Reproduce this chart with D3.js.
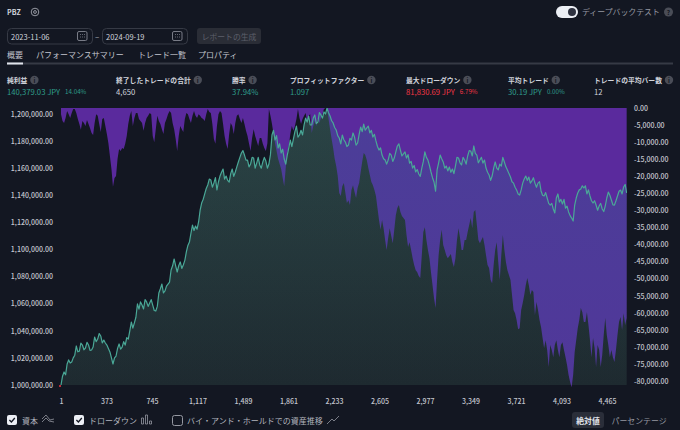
<!DOCTYPE html>
<html>
<head>
<meta charset="utf-8">
<script src="https://d3js.org/d3.v7.min.js"></script>
<style>
  html, body { margin: 0; padding: 0; background: #131722; }
  svg { display: block; font-family: "Noto Sans CJK JP", "Noto Sans", sans-serif; }
</style>
</head>
<body>
<svg id="chart" width="680" height="430"></svg>
<script>
// one reading every 12.5 trades, equity in thousands of JPY
var tradeStep = 12.5;
var equityK = [1000,1006.5,1009.6,1007.5,1015.5,1018.5,1016.2,1017,1020,1022,1028.8,1024.5,1025,1031,1029.5,1026,1027.3,1031.5,1029.5,1025.5,
  1025.8,1028,1035.4,1032,1033.9,1038,1036.2,1031,1033.2,1031,1029.5,1027,1024.4,1020,1015.5,1020,1021.4,1027,1030.3,1026.5,
  1028,1032,1029.5,1035,1033.9,1040,1046.5,1042,1045.8,1050,1059.8,1056,1061.3,1059,1056.1,1063,1061.3,1058,1060.5,1063,
  1059,1055,1054.6,1058,1067.9,1071,1074.5,1068,1069.4,1073,1074.5,1076,1084.9,1088,1093,1088,1083.4,1088,1090.8,1086,
  1088.6,1092,1098.2,1103,1105.5,1112,1118,1114,1117.3,1115,1120.3,1129,1134.3,1137,1141,1145,1147.6,1152,1151.3,1146,
  1149,1153,1143.9,1150,1154.2,1157,1159.4,1152,1154.2,1151,1149.8,1156,1159.4,1154,1157.2,1161,1164.6,1168,1171.2,1173,
  1169.7,1166,1166,1161,1163.1,1168,1167.5,1160,1163.8,1168,1162.4,1160,1164.6,1168,1165.3,1160,1163.1,1170,1184.5,1188,
  1180.8,1184,1174.9,1178,1171.2,1174,1166.8,1163,1169.7,1175,1180.8,1176,1181.5,1187,1191.1,1183,1184.5,1188,1184.5,1192,
  1197,1194,1198.5,1192,1191.9,1197,1199.3,1193,1194.1,1201,1199.3,1197,1201.5,1200,1204.4,1201,1198.5,1195,1193.4,1190,
  1188.2,1184,1182.3,1178,1184.5,1181,1179.3,1176,1177.1,1182,1180.8,1186,1183,1177,1178.6,1185,1190.4,1187,1192.6,1188,
  1189.7,1191,1186,1188,1183,1185,1180.1,1176,1173.4,1175,1169.7,1167,1166,1163,1166,1171,1169.7,1165,1167.5,1172,
  1176.4,1178,1173.4,1169,1170.5,1172,1167.5,1170,1163.8,1165,1160.1,1162,1157.2,1159,1155.7,1154,1160.1,1165,1172,1168,
  1166,1162,1157.2,1153,1149.8,1143,1158.7,1164,1169.7,1167,1164.6,1160,1161.6,1158,1160.9,1157,1159.4,1156,1161.6,1168,
  1167.5,1164,1162.4,1168,1166,1163,1169,1173,1172.7,1169,1176.4,1171,1169.7,1164,1166,1168,1163.8,1166,1160.1,1157,
  1155,1151,1154.2,1160,1164.6,1160,1158.7,1163,1161.6,1168,1164.6,1161,1158.7,1156,1153.5,1150,1149,1146,1143.9,1141,
  1140.2,1144,1149,1152,1154.2,1151,1153.5,1149,1150.6,1153,1149,1146,1149,1150,1143.2,1140,1139.5,1142,1138,1134,
  1132.8,1134,1129.9,1127,1138,1141,1135,1137,1133.6,1137,1130.6,1132,1127.7,1125,1123.2,1121,1132.8,1138,1141.7,1144,
  1144.7,1147,1145.4,1147,1141,1144,1139.5,1136,1134.3,1136,1132.8,1129,1132.1,1134,1129.9,1128,1132.1,1138,1142.4,1140,
  1136.5,1133,1132.8,1136,1139.5,1143,1143.9,1141,1146.1,1148,1141.7];
// drawdown in thousands of JPY, same trades as equityK
var drawdownK = [-1.8,-3.8,-4.4,-2.9,-0.9,-1.8,-2.9,-1.5,-0.3,-0.3,-1.5,-3.2,-4.7,-6.4,-3.8,-4.4,-5.3,-3.5,-4.7,-5.9,
  -7.3,-7.9,-4.4,-1.8,-2.3,-4.7,-7,-3.2,-2.9,-5.3,-7.6,-10.3,-14.1,-17.9,-23.1,-20.5,-19.9,-14.9,-12,-12.6,
  -11.7,-12,-10.5,-8.2,-4.7,-2.3,-0.9,-5.3,-2.9,-1.5,-1.5,-3.2,-3.8,-4.4,-6.7,-4.4,-2.9,-2.3,-1.5,-1.8,
  -8.2,-10,-6.2,-2.3,-3.8,-4.7,-6.2,-7.6,-4.4,-3.2,-1.8,-0.9,-1.5,-4.4,-6.2,-9.1,-12.6,-8.2,-5.3,-6.2,
  -7,-3.2,-1.5,-1.8,-3.2,-4.4,-2.3,-0.9,-2.3,-2.9,-1.8,-2.3,-2.9,-3.2,-3.8,-1.8,-0.3,-1.2,-1.5,-4.7,
  -9.1,-10.5,-5.3,-1.8,-0.9,-1.5,-4.7,-8.2,-10.5,-12,-7.6,-4.4,-5.3,-7.6,-4.4,-2.3,-1.8,-3.2,-4.4,-2.9,
  -4.7,-6.7,-8.2,-10.5,-12.6,-8.8,-6.2,-8.2,-9.7,-11.1,-8.8,-8.8,-10.5,-11.7,-12.6,-10.3,-0.3,-2.3,-4.7,-7.6,
  -10.3,-12.6,-14.9,-16.4,-17.9,-20.5,-22.9,-17.6,-13.5,-11.1,-7.6,-5.3,-6.7,-5.3,-3.2,-0.3,-2.9,-4.7,-3.2,-2.3,
  -1.5,-3.8,-2.3,-1.8,-7.3,-5.3,-3.8,-5.3,-3.2,-4.4,-2.9,-1.8,-0.3,0,0,-3.2,-6.2,-9.1,-11.7,-14.9,
  -17,-19.9,-24.9,-25.8,-22.9,-22,-24.9,-27.8,-27,-28.4,-24,-22.6,-24.6,-26.4,-23.4,-22,-18.8,-15.8,-13.2,-13.8,
  -15.2,-17.6,-19.6,-21.7,-22.6,-24,-25.8,-29.3,-32.8,-35.7,-32.8,-35.2,-38.7,-41.6,-38.1,-35.2,-37.5,-39.6,-35.7,-31.4,
  -29.3,-28.4,-30.5,-31.6,-32.2,-32.8,-37.2,-40.7,-39.3,-41.6,-44,-46,-47.5,-48.1,-49.2,-49.8,-43.1,-36.3,-34.9,-38.7,
  -41.6,-44,-48.1,-51.9,-55.7,-58.6,-50.4,-43.1,-38.7,-35.7,-40.1,-41.6,-43.1,-44,-43.4,-42.8,-45.1,-46.6,-44,-38.7,
  -35.2,-38.1,-41.6,-41.6,-38.7,-38.7,-36.3,-34.3,-32.2,-35.2,-30.5,-29.9,-34.3,-38.7,-39.6,-38.7,-37.8,-40.1,-43.1,-46,
  -46.9,-50.4,-51.3,-46,-41.6,-39.3,-45.1,-50.4,-43.1,-37.2,-41.6,-45.1,-47.5,-48.9,-50.4,-54.8,-59.2,-60.1,-62.1,-64.8,
  -64.5,-59.2,-57.1,-54.8,-51.9,-49.8,-51.9,-54.8,-53.3,-53.9,-60.7,-56.8,-59.2,-62.1,-64.2,-67.4,-70.3,-68,-70.9,-75.9,
  -69.4,-70.9,-73,-69.4,-68,-70.9,-73,-69.4,-68.6,-70.9,-73,-75.3,-78.2,-80.3,-81.8,-78.2,-71.5,-68,-64.5,-62.1,
  -58.6,-59.8,-62.7,-62.7,-59.8,-63.6,-68,-73,-67.4,-70.3,-75.9,-69.4,-70.9,-75.9,-72.4,-66.5,-61.5,-66.5,-69.4,-73,
  -70.9,-73,-74.4,-70.9,-66.5,-62.7,-61.2,-65,-60.1,-63.6,-61.5];

var tradeTicks = [1,373,745,1117,1489,1861,2233,2605,2977,3349,3721,4093,4465];
var equityTicks = [1000000,1020000,1040000,1060000,1080000,1100000,1120000,1140000,1160000,1180000,1200000];
var drawdownTicks = [0,-5000,-10000,-15000,-20000,-25000,-30000,-35000,-40000,-45000,-50000,-55000,-60000,-65000,-70000,-75000,-80000];

var metricLabels = ["純利益","終了したトレードの合計","勝率","プロフィットファクター","最大ドローダウン","平均トレード","トレードの平均バー数"];
var metricValues = ["140,379.03 JPY","4,650","37.94%","1.097","81,830.69 JPY","30.19 JPY","12"];
var metricPercents = ["14.04%","","","","6.79%","0.00%",""];
var metricColours = ["#2f9e8c","#d1d4dc","#2f9e8c","#2f9e8c","#f23645","#2f9e8c","#d1d4dc"];
var metricLeft = [7,116,232,290,406,508,594];
var tabs = ["概要","パフォーマンスサマリー","トレード一覧","プロパティ"];
var tabLeft = [7,36,138,198];

var svg = d3.select("#chart");
var plot = {left: 59, right: 627, top: 108, bottom: 386};

function label(x, y, str, size, fill, weight, anchor) {
  return svg.append("text").attr("x", x).attr("y", y).text(str)
    .attr("font-size", size).attr("fill", fill)
    .attr("font-weight", weight || 400)
    .attr("text-anchor", anchor || "start")
    .attr("dominant-baseline", "central");
}

// scales
var x = d3.scaleLinear().domain([1, 4650]).range([61, 629.6]);
var yEquity = d3.scaleLinear().domain([1000000, 1200000]).range([385, 114]);
var yDrawdown = d3.scaleLinear().domain([0, -80000]).range([108, 381.1]);
function tradeAt(i) { return 1 + i * tradeStep; }

var defs = svg.append("defs");
defs.append("clipPath").attr("id", "plotClip").append("rect")
  .attr("x", plot.left).attr("y", plot.top)
  .attr("width", plot.right - plot.left).attr("height", plot.bottom - plot.top + 2);

function gradient(id, stops) {
  var grad = defs.append("linearGradient").attr("id", id)
    .attr("x1", 0).attr("y1", 0).attr("x2", 0).attr("y2", 1);
  stops.forEach(function (s) {
    grad.append("stop").attr("offset", s[0]).attr("stop-color", s[1]).attr("stop-opacity", s[2]);
  });
}
gradient("equityBase", [["0%", "#323239", 1], ["100%", "#211b25", 1]]);
gradient("equityTint", [["0%", "#089981", 0.18], ["100%", "#089981", 0.12]]);

var g = svg.append("g").attr("clip-path", "url(#plotClip)");

var eqArea = d3.area()
  .x(function (d, i) { return x(tradeAt(i)); })
  .y0(yEquity(1000000))
  .y1(function (d) { return yEquity(d * 1000); });

g.append("path").datum(equityK)
  .attr("d", eqArea)
  .attr("fill", "url(#equityBase)");

// drawdown hangs from the zero line
var ddArea = d3.area()
  .x(function (d, i) { return x(tradeAt(i)); })
  .y0(yDrawdown(0))
  .y1(function (d) { return yDrawdown(d * 1000); });
g.append("path").datum(drawdownK)
  .attr("d", ddArea)
  .attr("fill", "#5a2a9d");

g.append("path").datum(equityK)
  .attr("d", eqArea)
  .attr("fill", "url(#equityTint)");

var eqLine = d3.line()
  .x(function (d, i) { return x(tradeAt(i)); })
  .y(function (d) { return yEquity(d * 1000); });
g.append("path").datum(equityK)
  .attr("d", eqLine)
  .attr("fill", "none")
  .attr("stroke", "#4aa897")
  .attr("stroke-width", 1.2)
  .attr("stroke-linejoin", "round");

// start marker
svg.append("circle").attr("cx", x(1) - 1).attr("cy", yEquity(1000000) + 1).attr("r", 1).attr("fill", "#f23645");

// axes
function styleAxis(sel) {
  sel.select(".domain").remove();
  sel.selectAll("line").remove();
  sel.selectAll("text").attr("fill", "#c3c6ce").attr("font-size", 7).attr("font-weight", 500)
    .attr("font-family", '"Noto Sans CJK JP", "Noto Sans", sans-serif');
}
// plain hyphen instead of the d3 minus sign
function money(v) { return d3.format(",.2f")(v).replace("−", "-"); }
svg.append("g").attr("transform", "translate(53,0)")
  .call(d3.axisLeft(yEquity).tickValues(equityTicks).tickSize(0).tickPadding(0).tickFormat(money))
  .call(styleAxis);
svg.append("g").attr("transform", "translate(634,0)")
  .call(d3.axisRight(yDrawdown).tickValues(drawdownTicks).tickSize(0).tickPadding(0).tickFormat(money))
  .call(styleAxis);
svg.append("g").attr("transform", "translate(0,399)")
  .call(d3.axisBottom(x).tickValues(tradeTicks).tickSize(0).tickPadding(0).tickFormat(d3.format(",")))
  .call(styleAxis);

// header
label(7, 12, "PBZ", 7, "#d1d4dc", 700);
svg.append("circle").attr("cx", 35).attr("cy", 12).attr("r", 3.8).attr("fill", "none").attr("stroke", "#9598a1");
svg.append("circle").attr("cx", 35).attr("cy", 12).attr("r", 1.4).attr("fill", "none").attr("stroke", "#9598a1");

[[7, "2023-11-06"], [102, "2024-09-19"]].forEach(function (d) {
  svg.append("rect").attr("x", d[0] + 0.5).attr("y", 28.5).attr("width", 85).attr("height", 15.5)
    .attr("rx", 4).attr("fill", "none").attr("stroke", "#363a45");
  label(d[0] + 4, 36, d[1], 7.5, "#d1d4dc");
  svg.append("rect").attr("x", d[0] + 70.5).attr("y", 31.5).attr("width", 9.5).attr("height", 9)
    .attr("rx", 1.5).attr("fill", "none").attr("stroke", "#787b86");
  svg.append("path").attr("d", "M" + (d[0] + 73) + ",34.5 h5 M" + (d[0] + 73) + ",37 h5")
    .attr("stroke", "#787b86").attr("stroke-width", 0.8).attr("stroke-dasharray", "1 1");
});
label(95, 36, "–", 8, "#b2b5be");
svg.append("rect").attr("x", 197).attr("y", 28).attr("width", 64).attr("height", 16).attr("rx", 3).attr("fill", "#2a2d36");
label(229, 36, "レポートの生成", 7.8, "#5d606b", 400, "middle");

tabs.forEach(function (t, i) { label(tabLeft[i], 54, t, 8, "#c3c6ce"); });
svg.append("rect").attr("x", 7).attr("y", 62.5).attr("width", 666).attr("height", 2).attr("fill", "#363a45");
svg.append("rect").attr("x", 7).attr("y", 62.5).attr("width", 16).attr("height", 2).attr("fill", "#e0e3eb");

// toggle
svg.append("rect").attr("x", 556).attr("y", 6).attr("width", 22).attr("height", 12).attr("rx", 6).attr("fill", "#eceff5");
svg.append("circle").attr("cx", 572).attr("cy", 12).attr("r", 4).attr("fill", "#2e3240");
label(582, 11.5, "ディープバックテスト", 7.9, "#9598a1");
svg.append("circle").attr("cx", 668.5).attr("cy", 12).attr("r", 4.5).attr("fill", "#4a4d57");
label(668.5, 12, "?", 6.5, "#131722", 700, "middle");

// metrics row
metricLabels.forEach(function (t, i) {
  var lab = label(metricLeft[i], 80, t, 6.8, "#d1d4dc", 700);
  var w = lab.node().getComputedTextLength();
  svg.append("circle").attr("cx", metricLeft[i] + w + 7).attr("cy", 80).attr("r", 4.2).attr("fill", "#4a4d57");
  label(metricLeft[i] + w + 7, 80, "i", 6, "#131722", 700, "middle");
  var val = label(metricLeft[i], 91, metricValues[i], 7.7, metricColours[i]);
  if (metricPercents[i]) {
    var vw = val.node().getComputedTextLength();
    label(metricLeft[i] + vw + 5, 91, metricPercents[i], 6.2, metricColours[i]);
  }
});

// legend
function checkbox(px, on) {
  if (on) {
    svg.append("rect").attr("x", px).attr("y", 415).attr("width", 10).attr("height", 10).attr("rx", 2).attr("fill", "#eceff5");
    svg.append("path").attr("d", "M" + (px + 2.4) + ",420 l2,2 l3.4,-4")
      .attr("fill", "none").attr("stroke", "#131722").attr("stroke-width", 1.3);
  } else {
    svg.append("rect").attr("x", px + 0.5).attr("y", 415.5).attr("width", 10).attr("height", 10).attr("rx", 2)
      .attr("fill", "none").attr("stroke", "#9598a1");
  }
}
function icon(d) {
  svg.append("path").attr("d", d).attr("fill", "none").attr("stroke", "#9598a1").attr("stroke-width", 0.8);
}
checkbox(7, true);
label(22, 420, "資本", 8, "#b2b5be");
icon("M42,422 l4,-4 l3,3 l5,1 M42,419 l4,-4 l4,5 l4,-1");
checkbox(74, true);
label(89, 420, "ドローダウン", 8, "#b2b5be");
icon("M141.5,418 h2 v6 h-2 z M145.5,415 h2 v9 h-2 z M149.5,421 h2 v3 h-2 z");
checkbox(172, false);
label(187, 420, "バイ・アンド・ホールドでの資産推移", 8, "#b2b5be");
icon("M327,424 l5,-5 l2,2 l5,-5");
svg.append("rect").attr("x", 572).attr("y", 412).attr("width", 32).attr("height", 16).attr("rx", 3).attr("fill", "#2a2e39");
label(588, 420, "絶対値", 7.8, "#e0e3eb", 700, "middle");
label(611.5, 420, "パーセンテージ", 7.9, "#9598a1");
</script>
</body>
</html>
